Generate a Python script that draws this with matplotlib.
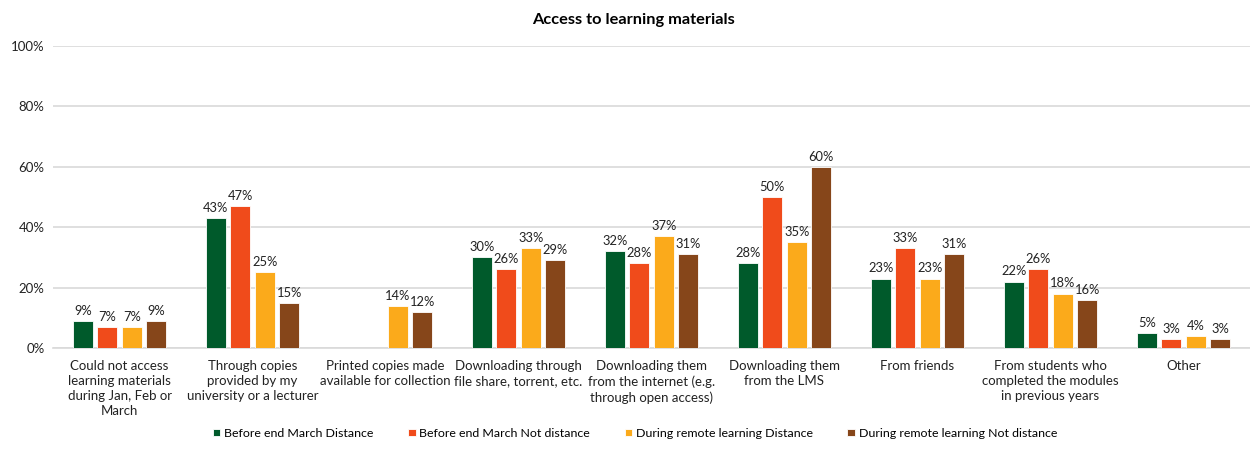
import numpy as np
import matplotlib.pyplot as plt

categories = [
    "Could not access\nlearning materials\nduring Jan, Feb or\nMarch",
    "Through copies\nprovided by my\nuniversity or a lecturer",
    "Printed copies made\navailable for collection",
    "Downloading through\nfile share, torrent, etc.",
    "Downloading them\nfrom the internet (e.g.\nthrough open access)",
    "Downloading them\nfrom the LMS",
    "From friends",
    "From students who\ncompleted the modules\nin previous years",
    "Other",
]
series = [
    "Before end March Distance",
    "Before end March Not distance",
    "During remote learning Distance",
    "During remote learning Not distance",
]
before_distance = [9, 43, np.nan, 30, 32, 28, 23, 22, 5]
before_not_distance = [7, 47, np.nan, 26, 28, 50, 33, 26, 3]
remote_distance = [7, 25, 14, 33, 37, 35, 23, 18, 4]
remote_not_distance = [9, 15, 12, 29, 31, 60, 31, 16, 3]
colors = ["#005A2B", "#F04B1B", "#FBAA1B", "#86461A"]

plt.rcParams['font.family'] = ['Lato', 'DejaVu Sans']
fig = plt.figure(figsize=(12.5, 4.5), dpi=100)
ax = fig.add_axes([0.0424, 0.2267, 0.9576, 0.671])

x = np.arange(len(categories))
pitch = 0.184
width = 0.15
all_vals = [before_distance, before_not_distance, remote_distance, remote_not_distance]
for i, (vals, name, c) in enumerate(zip(all_vals, series, colors)):
    pos = x + (i - 1.5) * pitch
    ax.bar(pos, vals, width, color=c, label=name, zorder=3,
           edgecolor="white", linewidth=0.6)
    for p, v in zip(pos, vals):
        if not np.isnan(v):
            ax.annotate(f"{v:.0f}%", (p, v), xytext=(0, 3), textcoords="offset points",
                        ha="center", va="bottom", fontsize=9.3, color="#222222")

ax.set_xlim(-0.5, len(categories) - 0.5)
ax.set_ylim(0, 100)
ax.set_yticks(range(0, 101, 20))
ax.set_yticklabels([f"{t}%" for t in range(0, 101, 20)], fontsize=9.5, color="#222222")
ax.set_xticks(x)
ax.set_xticklabels(categories, fontsize=9.5, color="#222222", linespacing=1.3)
ax.tick_params(axis="x", length=0, pad=9)
ax.tick_params(axis="y", length=0, pad=6)
ax.grid(axis="y", color="#D9D9D9", linewidth=1.2, zorder=0)
for s in ["top", "right", "left"]:
    ax.spines[s].set_visible(False)
ax.spines["bottom"].set_color("#D9D9D9")
ax.spines["bottom"].set_linewidth(1.2)

fig.text(0.507, 0.955, "Access to learning materials", fontsize=11.8, fontweight="bold",
         ha="center", va="center")
fig.legend(loc="lower center", bbox_to_anchor=(0.508, 0.0), ncol=4, frameon=False,
           fontsize=8.9, handlelength=0.6, handleheight=0.6, handletextpad=0.3,
           columnspacing=2.8)

fig.savefig("out.png", dpi=100)
